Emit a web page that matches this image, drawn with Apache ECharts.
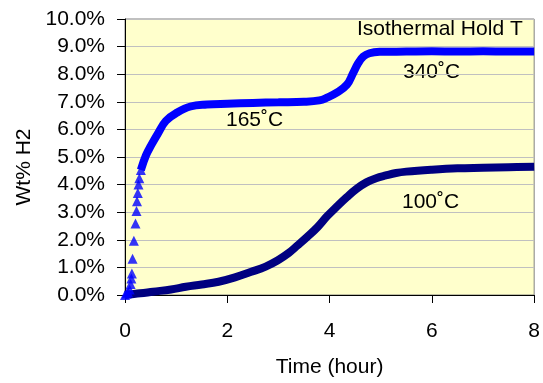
<!DOCTYPE html>
<html>
<head>
<meta charset="utf-8">
<script src="https://cdn.jsdelivr.net/npm/echarts@6/dist/echarts.min.js"></script>
<style>
html,body{margin:0;padding:0;background:#fff;}
#c{width:543px;height:383px;}
</style>
</head>
<body>
<div id="c"></div>
<script>
// Series 1 (165°C then 340°C): sparse triangles on the fast initial rise
const time1Rise = [0, 0.03, 0.06, 0.09, 0.11, 0.125, 0.135, 0.148, 0.173, 0.205, 0.225, 0.235, 0.25, 0.264, 0.28, 0.31];
const wt1Rise   = [0, 0.05, 0.1, 0.2, 0.4, 0.6, 0.78, 1.31, 1.97, 2.59, 3.04, 3.4, 3.7, 4.0, 4.23, 4.53];
// Series 1, dense part
const time1 = [0.31, 0.41, 0.51, 0.64, 0.80, 1.02, 1.28, 1.6, 2.0, 2.5, 3.0, 3.5, 3.8, 3.95, 4.14, 4.34, 4.46, 4.56, 4.66, 4.78, 4.98, 5.5, 6, 6.5, 7, 7.5, 8];
const wt1   = [4.53, 5.06, 5.42, 5.84, 6.31, 6.61, 6.83, 6.9, 6.93, 6.96, 6.98, 7.0, 7.05, 7.15, 7.33, 7.62, 8.04, 8.4, 8.64, 8.76, 8.81, 8.82, 8.83, 8.82, 8.83, 8.82, 8.82];
// Series 2 (100°C)
const time2 = [0, 0.1, 0.3, 0.55, 0.9, 1.19, 1.5, 1.83, 2.15, 2.47, 2.75, 2.99, 3.2, 3.37, 3.56, 3.76, 3.95, 4.14, 4.34, 4.53, 4.72, 4.91, 5.1, 5.3, 5.5, 6, 6.5, 7, 7.5, 8];
const wt2   = [0, 0.02, 0.06, 0.12, 0.2, 0.3, 0.38, 0.48, 0.64, 0.84, 1.03, 1.26, 1.52, 1.79, 2.1, 2.45, 2.85, 3.2, 3.55, 3.85, 4.08, 4.23, 4.33, 4.42, 4.47, 4.54, 4.59, 4.61, 4.63, 4.65];
const xTicks = [0, 2, 4, 6, 8];
const yTicks = [0, 1, 2, 3, 4, 5, 6, 7, 8, 9, 10];
const notes = ["Isothermal Hold T", "340˚C", "165˚C", "100˚C"];

const zip = (a, b) => a.map((v, i) => [v, b[i]]);
const FONT = '"Liberation Sans", Arial, sans-serif';

const chart = echarts.init(document.getElementById('c'), null, {renderer: 'canvas'});
chart.setOption({
  animation: false,
  backgroundColor: '#ffffff',
  grid: {left: 125, right: 2, top: 19, bottom: 85, show: true, backgroundColor: '#FFFFCC', borderColor: '#808080', borderWidth: 1},
  xAxis: {
    type: 'value', min: xTicks[0], max: xTicks[xTicks.length - 1], interval: 2,
    axisLine: {show: true, onZero: false, lineStyle: {color: '#000', width: 1}},
    axisTick: {show: true, length: 8, lineStyle: {color: '#000'}},
    axisLabel: {margin: 26, color: '#000', fontSize: 21, fontFamily: FONT},
    splitLine: {show: false},
    name: 'Time (hour)', nameLocation: 'middle', nameGap: 62,
    nameTextStyle: {color: '#000', fontSize: 21, fontFamily: FONT}
  },
  yAxis: {
    type: 'value', min: yTicks[0], max: yTicks[yTicks.length - 1], interval: 1,
    axisLine: {show: true, onZero: false, lineStyle: {color: '#000', width: 1}},
    axisTick: {show: true, length: 8, lineStyle: {color: '#000'}},
    axisLabel: {margin: 20, color: '#000', fontSize: 21, fontFamily: FONT, formatter: v => v.toFixed(1) + '%'},
    splitLine: {show: true, lineStyle: {color: '#C0C0C0', width: 1}}
  },
  series: [
    {type: 'line', data: zip(time2, wt2), smooth: 0.4, showSymbol: false, lineStyle: {color: '#000080', width: 8}, itemStyle: {color: '#000080'}, z: 2},
    {type: 'line', data: zip(time1, wt1), smooth: 0.4, showSymbol: false, lineStyle: {color: '#0000FF', width: 8}, itemStyle: {color: '#0000FF'}, z: 3},
    {type: 'scatter', data: zip(time1Rise, wt1Rise), symbol: 'triangle', symbolSize: 10, itemStyle: {color: '#0000FF'}, z: 4}
  ],
  graphic: [
    {type: 'text', left: 357, top: 19, style: {text: notes[0], fill: '#000', font: '21px ' + FONT}},
    {type: 'text', left: 403, top: 62, style: {text: notes[1], fill: '#000', font: '21px ' + FONT}},
    {type: 'text', left: 226, top: 110, style: {text: notes[2], fill: '#000', font: '21px ' + FONT}},
    {type: 'text', left: 402, top: 192, style: {text: notes[3], fill: '#000', font: '21px ' + FONT}},
    {type: 'text', x: 24, y: 167, rotation: Math.PI / 2, style: {text: 'Wt% H2', fill: '#000', font: '21px ' + FONT, textAlign: 'center', textVerticalAlign: 'middle'}}
  ]
});
</script>
</body>
</html>
